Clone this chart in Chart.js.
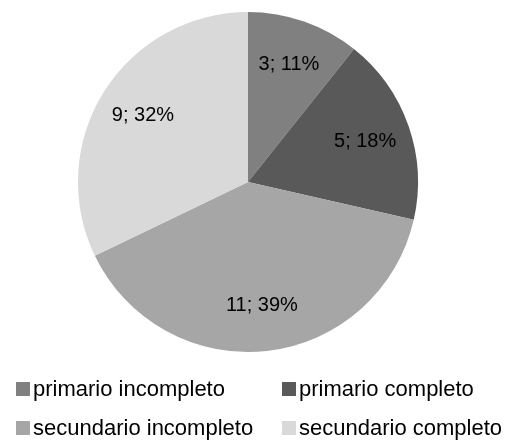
<!DOCTYPE html>
<html>
<head>
<meta charset="utf-8">
<script src="https://cdn.jsdelivr.net/npm/chart.js@4"></script>
<style>
  html, body { margin: 0; padding: 0; background: #fff; }
  canvas { display: block; }
</style>
</head>
<body>
<canvas id="pieChart" width="510" height="444"></canvas>
<script>
  // Data
  const categories = ['primario incompleto', 'primario completo', 'secundario incompleto', 'secundario completo'];
  const counts = [3, 5, 11, 9];
  const percents = [11, 18, 39, 32];
  const colors = ['#808080', '#595959', '#a6a6a6', '#d9d9d9'];

  const FONT = '"Liberation Sans", Arial, sans-serif';

  // slice labels "n; p%"
  const sliceLabels = {
    id: 'sliceLabels',
    afterDatasetsDraw(chart) {
      const ctx = chart.ctx;
      const meta = chart.getDatasetMeta(0);
      ctx.save();
      ctx.font = '20px ' + FONT;
      ctx.fillStyle = '#000';
      ctx.textAlign = 'center';
      ctx.textBaseline = 'middle';
      meta.data.forEach(function (arc, i) {
        const p = arc.getProps(['x', 'y', 'startAngle', 'endAngle', 'outerRadius'], true);
        const mid = (p.startAngle + p.endAngle) / 2;
        const r = p.outerRadius * 0.73;
        ctx.fillText(counts[i] + '; ' + percents[i] + '%', p.x + Math.cos(mid) * r, p.y + Math.sin(mid) * r);
      });
      ctx.restore();
    }
  };

  // two-column legend under the pie
  const gridLegend = {
    id: 'gridLegend',
    afterDraw(chart) {
      const ctx = chart.ctx;
      const colX = [16, 282];
      const rowY = [389, 428];
      ctx.save();
      ctx.font = '22px ' + FONT;
      ctx.textBaseline = 'middle';
      ctx.textAlign = 'left';
      categories.forEach(function (label, i) {
        const x = colX[i % 2];
        const y = rowY[Math.floor(i / 2)];
        ctx.fillStyle = colors[i];
        ctx.fillRect(x, y - 7, 14, 14);
        ctx.fillStyle = '#000';
        ctx.fillText(label, x + 17, y + 1);
      });
      ctx.restore();
    }
  };

  const pieCtx = document.getElementById('pieChart').getContext('2d');
  const pieChart = new Chart(pieCtx, {
    type: 'pie',
    data: {
      labels: categories,
      datasets: [{
        data: counts,
        backgroundColor: colors,
        borderWidth: 0
      }]
    },
    options: {
      responsive: false,
      animation: false,
      devicePixelRatio: 1,
      layout: { padding: { top: 12, bottom: 92, left: 0, right: 14 } },
      plugins: {
        legend: { display: false },
        tooltip: { enabled: false }
      }
    },
    plugins: [sliceLabels, gridLegend]
  });
</script>
</body>
</html>
